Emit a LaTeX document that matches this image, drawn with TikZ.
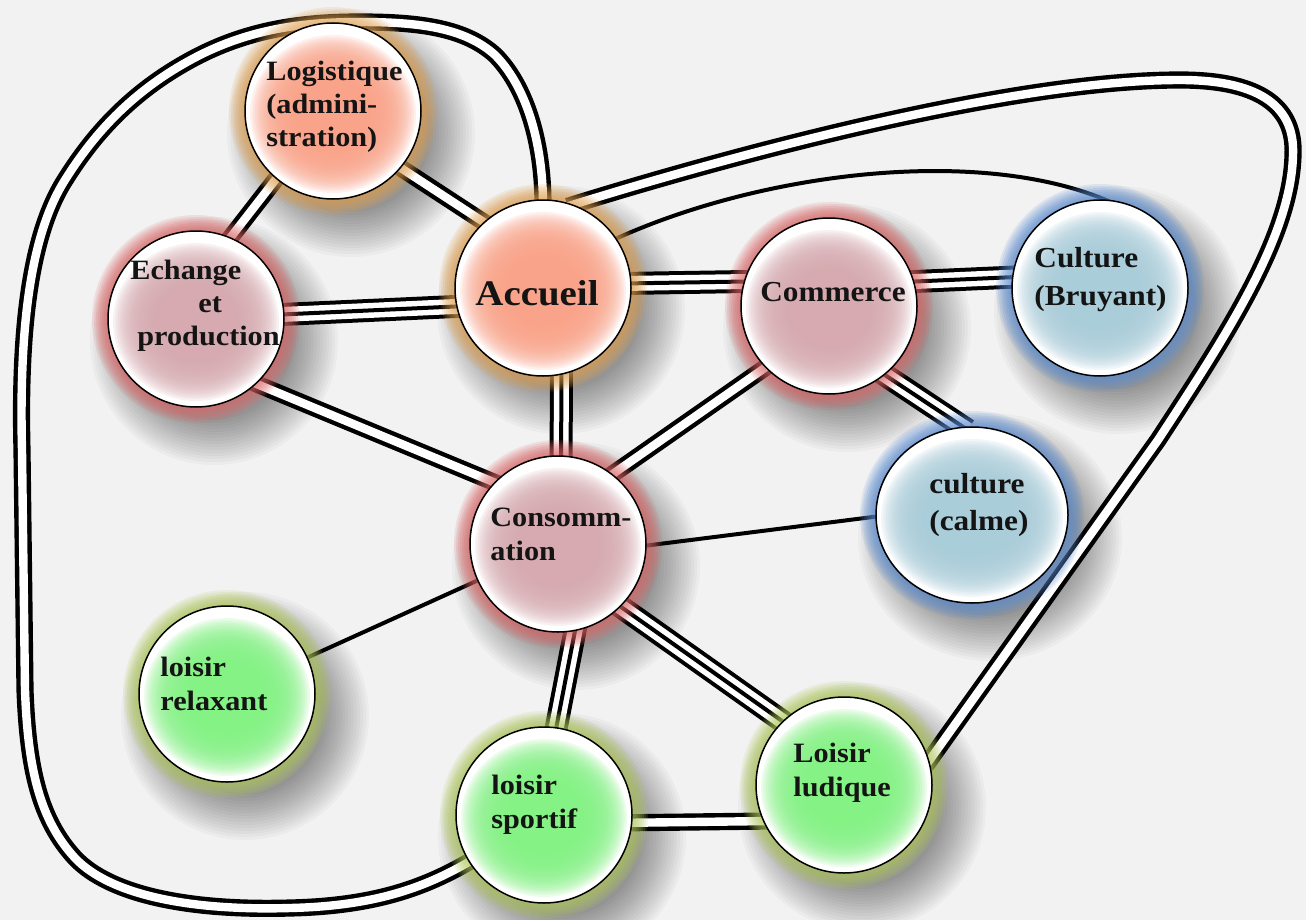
\documentclass[tikz,border=0pt]{standalone}
\usepackage{fontspec}
\setmainfont{Liberation Serif}[FakeStretch=1.08]
\usetikzlibrary{shapes.geometric}
\definecolor{bgc}{HTML}{F2F2F2}
\definecolor{cSal}{HTML}{F9A48A}
\definecolor{cPink}{HTML}{D6AAB0}
\definecolor{cBlue}{HTML}{AACDDA}
\definecolor{cGreen}{HTML}{84F284}
\definecolor{gO}{HTML}{E0A050}
\definecolor{gR}{HTML}{DC6464}
\definecolor{gB}{HTML}{5A8CD2}
\definecolor{gG}{HTML}{AFC85A}
\definecolor{txt}{HTML}{141414}
\pgfdeclarelayer{shadowlayer}
\pgfdeclarelayer{linelayer}
\pgfdeclarelayer{glowlayer}
\pgfdeclarelayer{filllayer}
\pgfsetlayers{shadowlayer,linelayer,glowlayer,filllayer,main}
\tikzset{
  nd/.style={circle, draw=black, line width=0.75pt, minimum size=88pt, inner sep=0pt},
  lbl/.style={font=\bfseries\fontsize{14pt}{17pt}\selectfont, align=left, inner sep=0pt, text=txt},
  sgl/.style={draw=black, line width=2pt, shorten <=-3pt, shorten >=-3pt},
  dbl/.style={draw=black, line width=2.2pt, double=white, double distance=4.2pt, shorten <=-3pt, shorten >=-3pt},
  trp/.style={draw=black, line width=11.5pt, shorten <=-3pt, shorten >=-3pt,
     postaction={draw=white, line width=7.5pt}, postaction={draw=black, line width=2pt}},
}
\begin{document}
\begin{tikzpicture}[x=0.5pt, y=-0.5pt]
\begin{pgfonlayer}{shadowlayer}
\fill[bgc] (0,0) rectangle (1306,920);
\end{pgfonlayer}
\useasboundingbox (0,0) rectangle (1306,920);

% circles
\node[nd] (log) at (333,111) {};
\node[nd] (ech) at (196,319) {};
\node[nd] (acc) at (543,288) {};
\node[nd] (com) at (829,306) {};
\node[nd] (cub) at (1100,288) {};
\node[ellipse, draw=black, line width=0.75pt, minimum width=96pt, minimum height=88pt, inner sep=0pt] (cuc) at (972,515) {};
\node[nd] (con) at (558,544) {};
\node[nd] (rel) at (227,694) {};
\node[nd] (spo) at (544,815) {};
\node[nd] (lud) at (844,785) {};

% labels
\node[lbl, anchor=west, font=\bfseries\fontsize{14pt}{16.5pt}\selectfont] (logt) at (266,107) {Logistique\\(admini-\\stration)};
\node[lbl, anchor=west, font=\bfseries\fontsize{14pt}{16.5pt}\selectfont] (echt) at (130,306) {Echange\\\hspace*{34pt}et\\\hspace*{3.5pt}production};
\node[lbl, font=\bfseries\fontsize{18pt}{20pt}\selectfont] (acct) at (537,293) {Accueil};
\node[lbl, font=\bfseries\fontsize{14.5pt}{17pt}\selectfont] (comt) at (833,292) {Commerce};
\node[lbl, anchor=west, font=\bfseries\fontsize{14.5pt}{19pt}\selectfont] (cubt) at (1034,280) {Culture\\(Bruyant)};
\node[lbl, anchor=west, font=\bfseries\fontsize{14.5pt}{18.5pt}\selectfont] (cuct) at (929,505) {culture\\(calme)};
\node[lbl, anchor=west] (cont) at (490,534) {Consomm-\\ation};
\node[lbl, anchor=west] (relt) at (160,684) {loisir\\relaxant};
\node[lbl, anchor=west] (spot) at (491,805) {loisir\\sportif};
\node[lbl, anchor=west] (ludt) at (793,773) {Loisir\\ludique};

% shadows, glows and fills
\foreach \n/\g/\c/\rx/\ry in {log/gO/cSal/44/44, acc/gO/cSal/44/44, ech/gR/cPink/44/44, com/gR/cPink/44/44, con/gR/cPink/44/44, cub/gB/cBlue/44/44, cuc/gB/cBlue/48/44, rel/gG/cGreen/44/44, spo/gG/cGreen/44/44, lud/gG/cGreen/44/44}{
  \begin{pgfonlayer}{shadowlayer}
    \foreach \k in {0,...,15}{
      \fill[black, opacity=0.028] ([shift={(18,22)}]\n.center) ellipse [x radius={(\rx+18-1.5*\k)*1pt}, y radius={(\ry+18-1.5*\k)*1pt}];
    }
  \end{pgfonlayer}
  \begin{pgfonlayer}{glowlayer}
    \foreach \k in {1,...,8}{
      \fill[\g, opacity=0.14] (\n.center) ellipse [x radius={(\rx+\k)*1pt}, y radius={(\ry+\k)*1pt}];
    }
  \end{pgfonlayer}
  \begin{pgfonlayer}{filllayer}
    \fill[white] (\n.center) ellipse [x radius={\rx*1pt}, y radius={\ry*1pt}];
    \foreach \k in {0,...,19}{
      \fill[\c, opacity=0.16] ([shift={(0,3)}]\n.center) ellipse [x radius={(\rx-2.5-1.2*\k)*1pt}, y radius={(\ry-4.5-1.15*\k)*1pt}];
    }
  \end{pgfonlayer}
}

% connectors
\begin{pgfonlayer}{linelayer}
\draw[dbl] (log.-130) -- (ech.67);
\draw[dbl] (log.-40) -- (acc.132);
\draw[trp] (ech.3) -- (acc.192);
\draw[trp] (acc.3) -- (com.164);
\draw[trp] (com.16) -- (cub.173);
\draw[trp] (acc.-78) -- (con.88);
\draw[dbl] (ech.-47) -- (con.136);
\draw[dbl] (com.224) -- (con.52);
\draw[trp] (com.-51) -- (cuc.96);
\draw[sgl] (con.-1) -- (cuc.181);
\draw[sgl] (con) -- (rel);
\draw[trp] (con.-79) -- (spo.82);
\draw[trp] (con.-45) -- (lud.134);
\draw[dbl] (spo.-5.5) -- (lud.204);
\draw[sgl] (acc.34) .. controls (760,172) and (980,145) .. (cub.87);
\draw[dbl] (spo.212) .. controls (430,885) and (380,906) .. (290,908)
  .. controls (190,911) and (110,895) .. (75,858)
  .. controls (40,820) and (28,770) .. (25,690)
  -- (22,450)
  .. controls (19,330) and (30,235) .. (65,180)
  .. controls (95,132) and (135,88) .. (200,55)
  .. controls (250,30) and (300,22) .. (360,22)
  .. controls (420,22) and (465,28) .. (495,55)
  .. controls (525,85) and (543,140) .. (acc.90);
\draw[dbl] (acc.70) .. controls (700,165) and (1000,80) .. (1180,80)
  .. controls (1265,80) and (1295,110) .. (1293,155)
  .. controls (1291,235) and (1230,330) .. (1158,440)
  -- (lud.16);
\end{pgfonlayer}
\end{tikzpicture}
\end{document}
